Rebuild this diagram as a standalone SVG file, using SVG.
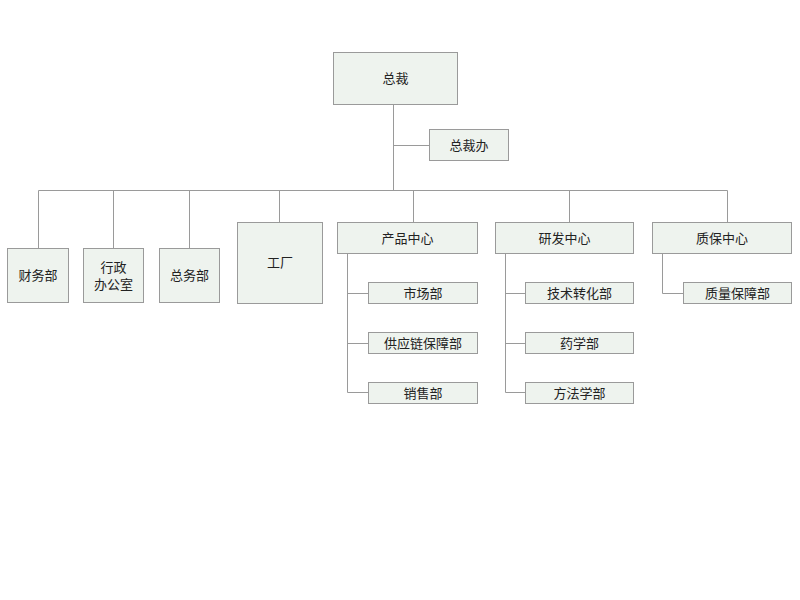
<svg xmlns="http://www.w3.org/2000/svg" width="800" height="600" viewBox="0 0 800 600">
<style>
.n{fill:#eef3ee;stroke:#9a9a9a;stroke-width:1}
.t{font-family:"Liberation Sans","Noto Sans CJK SC",sans-serif;font-size:13px;fill:#222;text-anchor:middle;dominant-baseline:central}
.c{fill:none;stroke:#9a9a9a;stroke-width:1}
</style>
<rect width="800" height="600" fill="#fff"/>
<g id="connectors">
<path class="c" d="M393.5 104V190.5M393.5 145.5H429"/>
<path class="c" d="M38.5 190.5H727.5"/>
<path class="c" d="M38.5 190.5V248M113.5 190.5V248M189.5 190.5V248M279.5 190.5V222M413.5 190.5V222M569.5 190.5V222M727.5 190.5V222"/>
<path class="c" d="M347.5 253V392.5H368M347.5 293.5H368M347.5 343.5H368"/>
<path class="c" d="M505.5 253V392.5H525M505.5 293.5H525M505.5 343.5H525"/>
<path class="c" d="M662.5 253V293.5H683"/>
</g>
<g id="n_zongcai"><rect class="n" x="333.5" y="52.5" width="124" height="52"/><text class="t" x="395.5" y="78.5">总裁</text></g>
<g id="n_zongcaiban"><rect class="n" x="429.5" y="129.5" width="79" height="31"/><text class="t" x="469" y="145">总裁办</text></g>
<g id="n_caiwu"><rect class="n" x="7.5" y="248.5" width="61" height="54"/><text class="t" x="38" y="275.5">财务部</text></g>
<g id="n_xingzheng"><rect class="n" x="83.5" y="248.5" width="60" height="54"/><text class="t" x="113.5" y="267">行政</text><text class="t" x="113.5" y="284">办公室</text></g>
<g id="n_zongwu"><rect class="n" x="159.5" y="248.5" width="60" height="54"/><text class="t" x="189.5" y="275.5">总务部</text></g>
<g id="n_gongchang"><rect class="n" x="237.5" y="222.5" width="85" height="81"/><text class="t" x="280" y="262">工厂</text></g>
<g id="n_chanpin"><rect class="n" x="337.5" y="222.5" width="140" height="31"/><text class="t" x="407.5" y="238">产品中心</text></g>
<g id="n_yanfa"><rect class="n" x="495.5" y="222.5" width="138" height="31"/><text class="t" x="564.5" y="238">研发中心</text></g>
<g id="n_zhibao"><rect class="n" x="652.5" y="222.5" width="139" height="31"/><text class="t" x="722" y="238">质保中心</text></g>
<g id="n_shichang"><rect class="n" x="368.5" y="282.5" width="109" height="21"/><text class="t" x="423" y="293">市场部</text></g>
<g id="n_gongying"><rect class="n" x="368.5" y="332.5" width="109" height="21"/><text class="t" x="423" y="343">供应链保障部</text></g>
<g id="n_xiaoshou"><rect class="n" x="368.5" y="382.5" width="109" height="21"/><text class="t" x="423" y="393">销售部</text></g>
<g id="n_jishu"><rect class="n" x="525.5" y="282.5" width="108" height="21"/><text class="t" x="579.5" y="293">技术转化部</text></g>
<g id="n_yaoxue"><rect class="n" x="525.5" y="332.5" width="108" height="21"/><text class="t" x="579.5" y="343">药学部</text></g>
<g id="n_fangfa"><rect class="n" x="525.5" y="382.5" width="108" height="21"/><text class="t" x="579.5" y="393">方法学部</text></g>
<g id="n_zhiliang"><rect class="n" x="683.5" y="282.5" width="108" height="21"/><text class="t" x="737.5" y="293">质量保障部</text></g>
</svg>
